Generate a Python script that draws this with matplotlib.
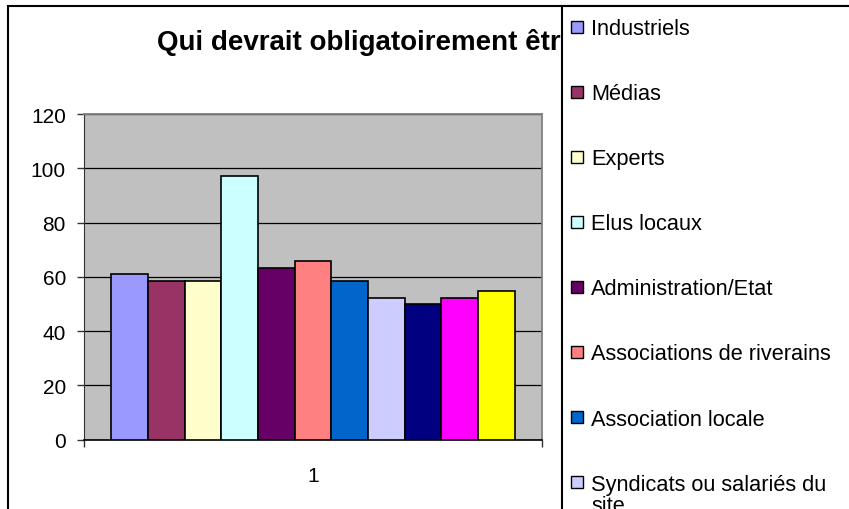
import matplotlib.pyplot as plt
from matplotlib.patches import Rectangle
from matplotlib.transforms import Bbox

plt.rcParams['font.family'] = ['Liberation Sans', 'DejaVu Sans']

title = "Qui devrait obligatoirement être consulté ?"
categories = ["1"]
series_names = [
    "Industriels", "Médias", "Experts", "Elus locaux", "Administration/Etat",
    "Associations de riverains", "Association locale",
    "Syndicats ou salariés du\nsite", "Associations environnementales",
    "Citoyens", "Autres",
]
values = [61.1, 58.4, 58.5, 97.0, 63.3, 65.8, 58.6, 52.1, 50.0, 52.1, 54.7]
colors = ["#9999FF", "#993366", "#FFFFCC", "#CCFFFF", "#660066", "#FF8080",
          "#0066CC", "#CCCCFF", "#000080", "#FF00FF", "#FFFF00"]
y_ticks = [0, 20, 40, 60, 80, 100, 120]

W, H = 849, 510
fig = plt.figure(figsize=(W / 100, H / 100), dpi=100)

# plot area, in pixel terms of the original picture
left, right, top, bottom = 84, 542.3, 115, 440.7
ax = fig.add_axes([left / W, 1 - bottom / H, (right - left) / W, (bottom - top) / H])
ax.set_facecolor("#C0C0C0")

n = len(values)
cluster = n / (n + 1.5)  # excel gap width 150%
width = cluster / n
for i, (v, c) in enumerate(zip(values, colors)):
    x = -cluster / 2 + width * (i + 0.5)
    ax.bar(x, v, width=width, color=c, edgecolor="black", linewidth=1.2, zorder=3)

ax.set_xlim(-0.5, 0.5)
ax.set_ylim(0, 120)
ax.set_yticks(y_ticks)
ax.yaxis.grid(True, color="black", linewidth=0.9, zorder=1)
ax.set_axisbelow(True)
ax.tick_params(axis="y", direction="out", length=5, width=1, color="#333333",
               labelsize=15, pad=8)
ax.set_xticks([0])
ax.set_xticklabels(categories)
ax.set_xticks([-0.5, 0.5], minor=True)
ax.tick_params(axis="x", which="major", length=0, labelsize=15, pad=19)
ax.tick_params(axis="x", which="minor", direction="out", length=5, width=1, color="#333333")

for s in ["top", "right"]:
    ax.spines[s].set_color("#808080")
    ax.spines[s].set_linewidth(1.3)
ax.spines["left"].set_color("#333333")
ax.spines["bottom"].set_color("black")
ax.spines["bottom"].set_linewidth(1.2)

# chart border
fig.add_artist(Rectangle((8.3 / W, -0.2), 2, 1.2 - 7.3 / H, transform=fig.transFigure,
                         fill=False, edgecolor="black", linewidth=1.5, zorder=1))

legend_x = 561.7
t = fig.text(157 / W, 1 - 50 / H, title, fontsize=20, fontweight="bold",
             va="baseline", ha="left", zorder=3)
t.set_clip_box(Bbox.from_extents(0, 0, legend_x, H))
t.set_clip_on(True)

# legend box
fig.add_artist(Rectangle((legend_x / W, -0.2), 1, 1.2 - 7.3 / H, transform=fig.transFigure,
                         facecolor="white", edgecolor="black", linewidth=1.5, zorder=5))
row0, pitch = 27.5, 65.1
for i, (name, c) in enumerate(zip(series_names, colors)):
    yc = row0 + pitch * i
    fig.add_artist(Rectangle((571 / W, 1 - (yc + 6) / H), 12 / W, 12 / H,
                             transform=fig.transFigure, facecolor=c,
                             edgecolor="black", linewidth=1, zorder=6))
    fig.text(591 / W, 1 - (yc - 8.5) / H, name, fontsize=15.7, va="top",
             ha="left", zorder=6, linespacing=1.0)

fig.savefig("out.png", dpi=100)
